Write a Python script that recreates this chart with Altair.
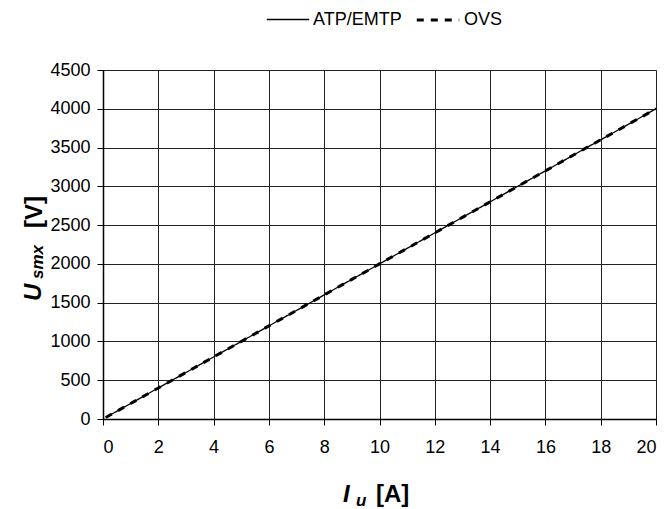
import altair as alt
import pandas as pd

# Data
I_atp = [0.1, 0.5, 1, 2, 3, 4, 5, 6, 7, 8, 9, 10, 11, 12, 13, 14, 15, 16, 17, 18, 19, 20]
U_atp = [20, 100, 200, 400, 600, 800, 1000, 1200, 1400, 1600, 1800, 2000, 2200, 2400, 2600, 2800, 3000, 3200, 3400, 3600, 3800, 4000]
I_ovs = [0.1, 0.5, 1, 2, 3, 4, 5, 6, 7, 8, 9, 10, 11, 12, 13, 14, 15, 16, 17, 18, 19, 20]
U_ovs = [20, 100, 200, 400, 600, 800, 1000, 1200, 1400, 1600, 1800, 2000, 2200, 2400, 2600, 2800, 3000, 3200, 3400, 3600, 3800, 4000]
series = ["ATP/EMTP", "OVS"]
x_ticks = [0, 2, 4, 6, 8, 10, 12, 14, 16, 18, 20]
y_ticks = [0, 500, 1000, 1500, 2000, 2500, 3000, 3500, 4000, 4500]

df = pd.concat([
    pd.DataFrame({"I": I_atp, "U": U_atp, "s": series[0]}),
    pd.DataFrame({"I": I_ovs, "U": U_ovs, "s": series[1]}),
])

W, H = 553, 349
FONT = "Liberation Sans"

x = alt.X("I:Q", scale=alt.Scale(domain=[0, 20], nice=False),
          axis=alt.Axis(values=x_ticks, format="d", title=None, grid=True, gridColor="#222", gridWidth=1,
                        domainColor="#000", domainWidth=1.5, tickColor="#000", tickSize=6,
                        labelFont=FONT, labelFontSize=18, labelColor="#000", labelPadding=13))
y = alt.Y("U:Q", scale=alt.Scale(domain=[0, 4500], nice=False),
          axis=alt.Axis(values=y_ticks, format="d", title=None, grid=True, gridColor="#222", gridWidth=1,
                        domainColor="#000", domainWidth=1.5, tickColor="#000", tickSize=6,
                        labelFont=FONT, labelFontSize=18, labelColor="#000", labelPadding=7))

lines = alt.Chart(df).mark_line().encode(
    x=x, y=y,
    color=alt.Color("s:N", scale=alt.Scale(domain=series, range=["#000", "#000"]),
                    legend=alt.Legend(title=None, orient="none", legendX=163, legendY=-73,
                                      direction="horizontal", symbolType="stroke",
                                      symbolSize=1800, symbolStrokeWidth=2,
                                      labelFont=FONT, labelFontSize=18, labelColor="#000",
                                      columnPadding=8, labelOffset=3)),
    strokeDash=alt.StrokeDash("s:N", scale=alt.Scale(domain=series, range=[[1, 0], [7, 7]]), legend=None),
    strokeWidth=alt.StrokeWidth("s:N", scale=alt.Scale(domain=series, range=[1.3, 3]), legend=None),
    order=alt.Order("s:N"),
)

def txt(text, xv, yv, size, italic=True, angle=0):
    return alt.Chart(pd.DataFrame({"t": [text]})).mark_text(
        font=FONT, fontSize=size, fontWeight="bold", fontStyle="italic" if italic else "normal",
        align="left", baseline="alphabetic", angle=angle, color="#000"
    ).encode(text="t:N", x=alt.value(xv), y=alt.value(yv))

titles = [
    txt("U", -62, 231, 24, True, 270),
    txt("smx", -60, 209, 17, True, 270),
    txt("[V]", -61, 158, 24, False, 270),
    txt("I", 240, 432, 24, True),
    txt("u", 253, 436, 17, True),
    txt("[A]", 273, 432, 24, False),
]

chart = alt.layer(lines, *titles).properties(
    width=W, height=H,
    autosize=alt.AutoSizeParams(type="none"),
    padding={"left": 103, "top": 70, "right": 12, "bottom": 90},
).configure_view(stroke="#999", strokeWidth=1.5).configure(background="white")

chart.save("out.html", embed_options={"renderer": "svg", "actions": False})
